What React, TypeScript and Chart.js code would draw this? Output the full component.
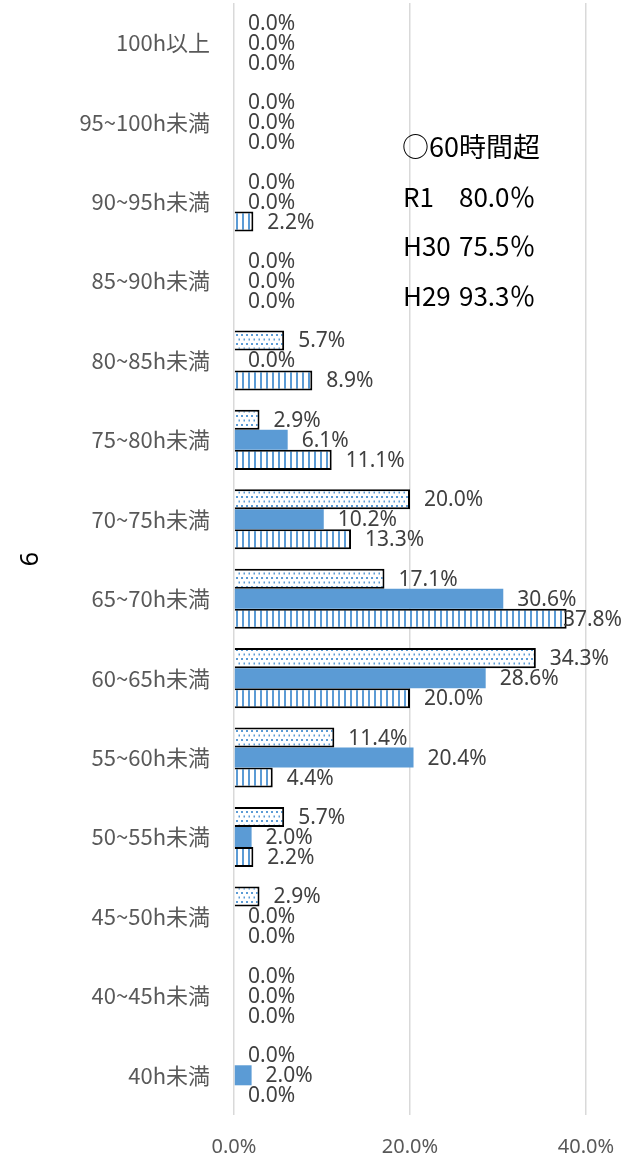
import React, { useEffect, useRef } from "react";
import { Chart, registerables } from "chart.js";

Chart.register(...registerables);

const categories = [
  "100h以上",
  "95~100h未満",
  "90~95h未満",
  "85~90h未満",
  "80~85h未満",
  "75~80h未満",
  "70~75h未満",
  "65~70h未満",
  "60~65h未満",
  "55~60h未満",
  "50~55h未満",
  "45~50h未満",
  "40~45h未満",
  "40h未満",
];

const r1Values = [0, 0, 0, 0, 5.7, 2.9, 20.0, 17.1, 34.3, 11.4, 5.7, 2.9, 0, 0];
const h30Values = [0, 0, 0, 0, 0, 6.1, 10.2, 30.6, 28.6, 20.4, 2.0, 0, 0, 2.0];
const h29Values = [0, 0, 2.2, 0, 8.9, 11.1, 13.3, 37.8, 20.0, 4.4, 2.2, 0, 0, 0];

const xTickValues = [0, 20, 40];
const axisTitle = "6";

const noteTitle = "○60時間超";
const noteYears = ["R1", "H30", "H29"];
const noteValues = ["80.0％", "75.5％", "93.3％"];

const BLUE = "#5B9BD5";

function makeDotPattern(ctx: CanvasRenderingContext2D) {
  const c = document.createElement("canvas");
  c.width = 5;
  c.height = 9;
  const g = c.getContext("2d")!;
  g.fillStyle = "#ffffff";
  g.fillRect(0, 0, 5, 9);
  g.fillStyle = BLUE;
  g.fillRect(1, 1, 2, 2);
  g.fillRect(3.5, 5.5, 2, 2);
  return ctx.createPattern(c, "repeat")!;
}

function makeStripePattern(ctx: CanvasRenderingContext2D) {
  const c = document.createElement("canvas");
  c.width = 6;
  c.height = 6;
  const g = c.getContext("2d")!;
  g.fillStyle = "#ffffff";
  g.fillRect(0, 0, 6, 6);
  g.fillStyle = BLUE;
  g.fillRect(2, 0, 2, 6);
  return ctx.createPattern(c, "repeat")!;
}

const labelPlugin = {
  id: "barLabels",
  afterDatasetsDraw(chart: any) {
    const ctx = chart.ctx as CanvasRenderingContext2D;
    ctx.save();
    ctx.font = '21px "Noto Sans"';
    ctx.fillStyle = "#404040";
    ctx.textAlign = "left";
    ctx.textBaseline = "middle";
    chart.data.datasets.forEach((ds: any, i: number) => {
      const meta = chart.getDatasetMeta(i);
      meta.data.forEach((bar: any, j: number) => {
        const v = ds.data[j] as number;
        const txt = v.toFixed(1) + "%";
        const w = ctx.measureText(txt).width;
        let x = bar.x + 14;
        if (x + w > chart.width) x = chart.width - w;
        ctx.fillText(txt, x, bar.y + 1);
      });
    });

    // note text box
    ctx.fillStyle = "#000000";
    ctx.textBaseline = "middle";
    ctx.font = '27px "Noto Sans CJK JP"';
    ctx.fillText(noteTitle, 402, 147);
    ctx.font = '26px "Noto Sans CJK JP"';
    const ys = [197, 246, 296];
    noteYears.forEach((t, k) => {
      ctx.fillText(t, 403, ys[k]);
      ctx.fillText(noteValues[k], 459, ys[k]);
    });
    ctx.restore();
  },
};

export default function App() {
  const canvasRef = useRef<HTMLCanvasElement | null>(null);

  useEffect(() => {
    const canvas = canvasRef.current!;
    const ctx = canvas.getContext("2d")!;
    const dots = makeDotPattern(ctx);
    const stripes = makeStripePattern(ctx);
    const bw = (c: any) => (c.raw === 0 ? 0 : 2);

    const chart = new Chart(canvas, {
      type: "bar",
      data: {
        labels: categories,
        datasets: [
          {
            label: "R1",
            data: r1Values,
            backgroundColor: dots,
            borderColor: "#000000",
            borderWidth: bw,
            borderSkipped: "start",
          },
          {
            label: "H30",
            data: h30Values,
            backgroundColor: BLUE,
            borderWidth: 0,
          },
          {
            label: "H29",
            data: h29Values,
            backgroundColor: stripes,
            borderColor: "#000000",
            borderWidth: bw,
            borderSkipped: "start",
          },
        ],
      },
      plugins: [labelPlugin],
      options: {
        indexAxis: "y",
        responsive: false,
        animation: false,
        devicePixelRatio: 1,
        datasets: {
          bar: {
            barPercentage: 1,
            categoryPercentage: 0.756,
          },
        },
        layout: { padding: { top: 3, right: 36, left: 0, bottom: 0 } },
        plugins: {
          legend: { display: false },
          tooltip: { enabled: false },
        },
        scales: {
          x: {
            min: 0,
            max: 40,
            afterBuildTicks: (scale: any) => {
              scale.ticks = xTickValues.map((v) => ({ value: v }));
            },
            afterFit: (scale: any) => {
              scale.height = 47;
              scale.paddingLeft = 0;
              scale.paddingRight = 0;
            },
            grid: {
              color: "#d9d9d9",
              lineWidth: 1.5,
              drawTicks: false,
            },
            border: { display: false },
            ticks: {
              padding: 20,
              color: "#595959",
              font: { family: "Noto Sans", size: 20 },
              callback: (v: any) => Number(v).toFixed(1) + "%",
            },
          },
          y: {
            afterFit: (scale: any) => {
              scale.width = 234;
              scale.paddingTop = 0;
              scale.paddingBottom = 0;
            },
            grid: { display: false, drawTicks: false },
            border: { display: false },
            ticks: {
              padding: 24,
              color: "#595959",
              font: { family: "Noto Sans CJK JP", size: 22 },
            },
            title: {
              display: true,
              text: axisTitle,
              color: "#000000",
              font: { family: "Noto Sans", size: 25 },
              padding: { top: 16, bottom: 0 },
            },
          },
        },
      },
    });
    return () => chart.destroy();
  }, []);

  return (
    <div style={{ position: "absolute", left: 0, top: 0, width: 622, height: 1162, background: "#ffffff" }}>
      <canvas ref={canvasRef} width={622} height={1162} />
    </div>
  );
}
